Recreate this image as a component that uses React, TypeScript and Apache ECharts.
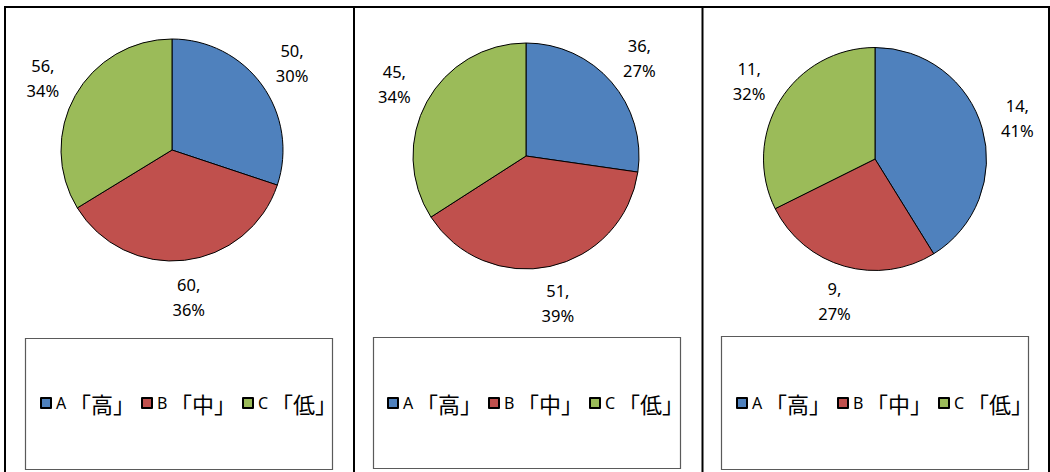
import React, { useEffect, useRef } from 'react';
import * as echarts from 'echarts';

const categories = ['A「高」', 'B「中」', 'C「低」'];
const panel1Values = [50, 60, 56];
const panel2Values = [36, 51, 45];
const panel3Values = [14, 9, 11];
const sliceColors = ['#4F81BD', '#C0504D', '#9BBB59'];

const panelValues = [panel1Values, panel2Values, panel3Values];

// layout (pixels)
const panels = [
  { cx: 172, cy: 150, r: 111, lr: [139, 151], box: [25, 338, 307, 131], legendLeft: 40 },
  { cx: 526, cy: 156, r: 113, lr: [141, 153], box: [373, 337, 307, 131], legendLeft: 387 },
  { cx: 875, cy: 159, r: 111.5, lr: [139, 151], box: [721, 336, 307, 133], legendLeft: 736 },
];

export default function App() {
  const ref = useRef<HTMLDivElement>(null);
  useEffect(() => {
    const chart = echarts.init(ref.current!, null, { renderer: 'svg' });
    const mkData = (vals: number[], transparent: boolean) =>
      categories.map((name, i) => ({
        name,
        value: vals[i],
        itemStyle: transparent
          ? { color: 'rgba(0,0,0,0)', borderWidth: 0 }
          : { color: sliceColors[i], borderColor: '#000', borderWidth: 1 },
      }));

    const mainSeries = panels.map((p, k) => ({
      type: 'pie',
      name: 'pie' + k,
      center: [p.cx, p.cy],
      radius: [0, p.r],
      startAngle: 90,
      clockwise: true,
      label: { show: false },
      labelLine: { show: false },
      emphasis: { disabled: true },
      data: mkData(panelValues[k], false),
    }));

    const labelSeries = panels.map((p, k) => ({
      type: 'pie',
      name: 'lab' + k,
      center: [p.cx, p.cy],
      radius: p.lr,
      startAngle: 90,
      clockwise: true,
      silent: true,
      legendHoverLink: false,
      percentPrecision: 0,
      emphasis: { disabled: true },
      labelLine: { show: false },
      label: {
        show: true,
        position: 'inside',
        formatter: '{c},\n{d}%',
        color: '#000',
        fontSize: 16.5,
        lineHeight: 25,
        fontFamily: 'Noto Sans',
        textBorderWidth: 0,
      },
      data: mkData(panelValues[k], true),
    }));

    const legends = panels.map((p) => ({
      show: true,
      data: categories,
      orient: 'horizontal',
      left: p.legendLeft,
      top: 392,
      padding: 0,
      itemWidth: 10,
      itemHeight: 10,
      itemGap: 6,
      icon: 'rect',
      selectedMode: false,
      formatter: (name: string) => `{l|${name[0]}}{c|${name.slice(1)}}`,
      textStyle: {
        color: '#000',
        fontSize: 16,
        rich: {
          l: { fontSize: 16, fontFamily: 'Noto Sans', lineHeight: 24, width: 13, color: '#000' },
          c: { fontSize: 22, fontFamily: 'Noto Sans CJK JP', lineHeight: 24, color: '#000' },
        },
      },
    }));

    const lineStyle = { stroke: '#000', lineWidth: 2 };
    const graphic: any[] = [
      { type: 'line', shape: { x1: 4, y1: 7, x2: 1050, y2: 7 }, style: lineStyle },
      { type: 'line', shape: { x1: 5, y1: 6, x2: 5, y2: 472 }, style: lineStyle },
      { type: 'line', shape: { x1: 1049, y1: 6, x2: 1049, y2: 472 }, style: lineStyle },
      { type: 'line', shape: { x1: 354, y1: 6, x2: 354, y2: 472 }, style: lineStyle },
      { type: 'line', shape: { x1: 702.5, y1: 6, x2: 702.5, y2: 472 }, style: lineStyle },
      ...panels.map((p) => ({
        type: 'rect',
        shape: { x: p.box[0] + 0.5, y: p.box[1] + 0.5, width: p.box[2], height: p.box[3] },
        style: { fill: '#fff', stroke: '#5a5a5a', lineWidth: 1.2 },
        z: -1,
      })),
    ];

    chart.setOption({
      animation: false,
      backgroundColor: '#fff',
      legend: legends,
      graphic,
      series: [...mainSeries, ...labelSeries],
    });
    return () => chart.dispose();
  }, []);
  return (
    <div
      ref={ref}
      style={{ position: 'absolute', left: 0, top: 0, width: 1050, height: 472, background: '#fff' }}
    />
  );
}
